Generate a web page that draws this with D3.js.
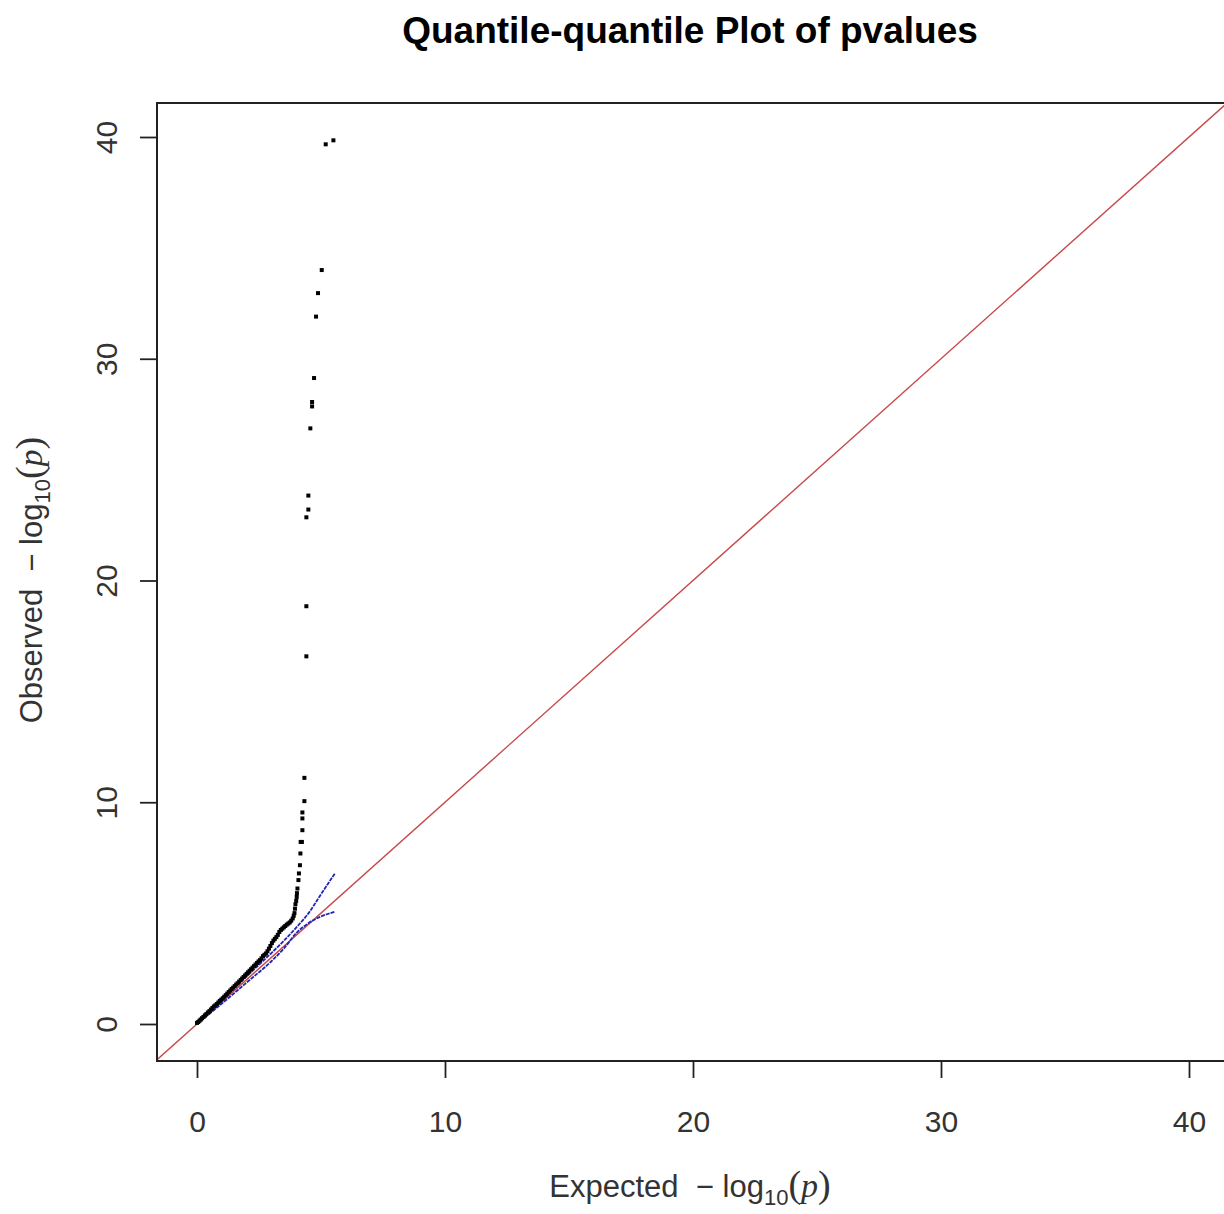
<!DOCTYPE html>
<html>
<head>
<meta charset="utf-8">
<script src="https://cdn.jsdelivr.net/npm/d3@7"></script>
<style>
  html, body { margin: 0; padding: 0; background: #fff; }
  svg { display: block; font-family: "Liberation Sans", Arial, sans-serif; }
</style>
</head>
<body>
<svg id="chart" width="1224" height="1214"></svg>
<script>
// Expected -log10(p) for each observed point
const expected = [
  0.00, 0.05, 0.10, 0.15, 0.20, 0.26, 0.32, 0.38, 0.44, 0.50,
  0.56, 0.62, 0.68, 0.74, 0.80, 0.86, 0.92, 0.98, 1.04, 1.10,
  1.16, 1.22, 1.28, 1.34, 1.40, 1.46, 1.52, 1.58, 1.64, 1.70,
  1.76, 1.82, 1.88, 1.94, 2.00, 2.06, 2.12, 2.18, 2.24, 2.30,
  2.36, 2.42, 2.48, 2.54, 2.60, 2.66, 2.72, 2.78, 2.84, 2.90,
  2.96, 3.02, 3.08, 3.14, 3.20, 3.26, 3.32, 3.38, 3.44, 3.50,
  3.56, 3.62, 3.68, 3.74, 3.80, 3.86, 3.90, 3.93, 3.95, 3.97,
  4.00, 4.02, 4.03, 4.05, 4.09, 4.11, 4.15, 4.17, 4.18, 4.23,
  4.25, 4.25, 4.25, 4.33, 4.33, 4.41, 4.41, 4.41, 4.49, 4.49,
  4.57, 4.64, 4.64, 4.72, 4.80, 4.88, 5.03, 5.19, 5.50
];
// Observed -log10(p)
const observed = [
  0.05, 0.09, 0.15, 0.20, 0.26, 0.32, 0.39, 0.45, 0.52, 0.58,
  0.65, 0.72, 0.79, 0.84, 0.90, 0.97, 1.04, 1.10, 1.16, 1.23,
  1.30, 1.37, 1.44, 1.51, 1.58, 1.64, 1.71, 1.78, 1.84, 1.91,
  1.98, 2.05, 2.12, 2.19, 2.26, 2.33, 2.40, 2.47, 2.54, 2.61,
  2.68, 2.75, 2.82, 2.88, 2.96, 3.06, 3.12, 3.18, 3.28, 3.40,
  3.52, 3.65, 3.76, 3.84, 3.92, 4.02, 4.15, 4.24, 4.30, 4.36,
  4.42, 4.48, 4.53, 4.58, 4.66, 4.76, 4.88, 5.00, 5.20, 5.40,
  5.55, 5.73, 5.90, 6.11, 6.49, 6.79, 7.16, 7.69, 8.21, 8.21,
  8.74, 9.27, 9.54, 10.05, 11.10, 16.58, 18.84, 22.85, 23.20, 23.83,
  26.86, 27.85, 28.05, 29.13, 31.90, 32.96, 34.00, 39.67, 39.85
];

// Confidence band (blue lines)
const bandExpected = [0, 1, 2, 3, 3.5, 4, 4.5, 5, 5.56];
const bandUpper    = [0.05, 1.10, 2.15, 3.20, 3.75, 4.35, 5.00, 5.85, 6.79];
const bandLower    = [0, 0.92, 1.87, 2.83, 3.40, 4.10, 4.55, 4.85, 5.06];

const xTicks = [0, 10, 20, 30, 40];
const yTicks = [0, 10, 20, 30, 40];

const svg = d3.select('#chart');

// plot box in pixels (right edge runs past the window, as in the original)
const box = { left: 157, top: 103, right: 1232, bottom: 1061 };

const x = d3.scaleLinear().domain([0, 40]).range([197, 1189]);
const y = d3.scaleLinear().domain([0, 40]).range([1024, 137]);

svg.append('defs').append('clipPath').attr('id', 'plotclip')
  .append('rect')
  .attr('x', box.left).attr('y', box.top)
  .attr('width', box.right - box.left).attr('height', box.bottom - box.top);

const plot = svg.append('g').attr('clip-path', 'url(#plotclip)');

// y = x reference line
const lo = x.invert(box.left), hi = x.invert(box.right);
plot.append('line')
  .attr('x1', x(lo)).attr('y1', y(lo))
  .attr('x2', x(hi)).attr('y2', y(hi))
  .attr('stroke', '#c94848')
  .attr('stroke-width', 1.4);

// confidence band lines
const bandLine = d3.line()
  .x((d, i) => x(bandExpected[i]))
  .y(d => y(d))
  .curve(d3.curveMonotoneX);

[bandUpper, bandLower].forEach(arr => {
  plot.append('path')
    .datum(arr)
    .attr('d', bandLine)
    .attr('fill', 'none')
    .attr('stroke', '#2323b4')
    .attr('stroke-width', 1.8)
    .attr('stroke-dasharray', '4,1');
});

// points
const pts = expected.map((e, i) => ({ e, o: observed[i] }));
plot.selectAll('.pt')
  .data(pts)
  .enter().append('rect')
  .attr('class', 'pt')
  .attr('x', d => x(d.e) - 2)
  .attr('y', d => y(d.o) - 2)
  .attr('width', 4)
  .attr('height', 4)
  .attr('fill', '#000');

// box
svg.append('rect')
  .attr('x', box.left).attr('y', box.top)
  .attr('width', box.right - box.left).attr('height', box.bottom - box.top)
  .attr('fill', 'none')
  .attr('stroke', '#222')
  .attr('stroke-width', 2);

// x axis
const xAxis = svg.append('g')
  .attr('transform', `translate(0,${box.bottom})`)
  .call(d3.axisBottom(x).tickValues(xTicks).tickSize(17).tickFormat(d3.format('d')));
xAxis.select('.domain').remove();
xAxis.selectAll('line').attr('stroke', '#222').attr('stroke-width', 1.8);
xAxis.selectAll('text')
  .attr('y', 71).attr('dy', 0)
  .attr('font-size', 30)
  .attr('font-family', '"Liberation Sans", Arial, sans-serif')
  .attr('fill', '#333');

// y axis
const yAxis = svg.append('g')
  .attr('transform', `translate(${box.left},0)`)
  .call(d3.axisLeft(y).tickValues(yTicks).tickSize(17).tickFormat(d3.format('d')));
yAxis.select('.domain').remove();
yAxis.selectAll('line').attr('stroke', '#222').attr('stroke-width', 1.8);
yAxis.selectAll('text')
  .attr('transform', 'rotate(-90)')
  .attr('x', 0).attr('y', -40).attr('dy', 0)
  .attr('text-anchor', 'middle')
  .attr('font-size', 30)
  .attr('font-family', '"Liberation Sans", Arial, sans-serif')
  .attr('fill', '#333');

// title
svg.append('text')
  .attr('x', 690).attr('y', 43)
  .attr('text-anchor', 'middle')
  .attr('font-size', 37)
  .attr('font-weight', 'bold')
  .attr('fill', '#000')
  .text('Quantile-quantile Plot of pvalues');

// axis labels with -log10(p)
function mathLabel(sel, word) {
  sel.attr('font-size', 31).attr('fill', '#333').attr('text-anchor', 'middle');
  sel.append('tspan').text(word + '\u00a0\u00a0\u2212\u00a0log');
  sel.append('tspan').attr('font-size', 22).attr('dy', 8).text('10');
  sel.append('tspan').attr('dy', -8).attr('font-family', '"Liberation Serif", serif').attr('font-size', 38).text('(');
  sel.append('tspan').attr('font-family', '"Liberation Serif", serif').attr('font-style', 'italic').attr('font-size', 34).text('p');
  sel.append('tspan').attr('font-family', '"Liberation Serif", serif').attr('font-size', 38).text(')');
}

mathLabel(svg.append('text').attr('x', 690).attr('y', 1197), 'Expected');
mathLabel(svg.append('text').attr('transform', 'translate(42,580) rotate(-90)'), 'Observed');
</script>
</body>
</html>
